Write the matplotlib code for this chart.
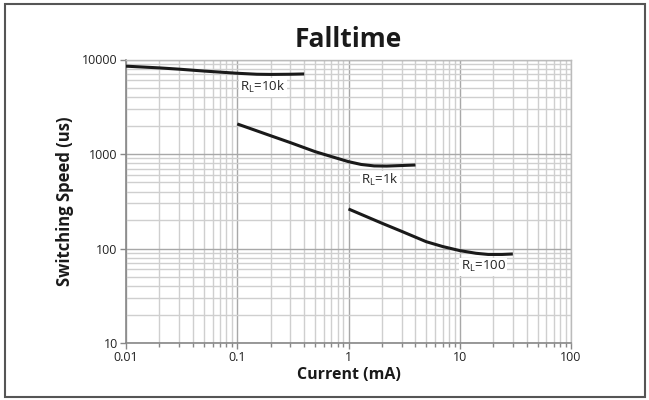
import matplotlib
matplotlib.use("Agg")
import matplotlib.pyplot as plt
from matplotlib.patches import Rectangle
from matplotlib.ticker import LogLocator, FixedLocator, NullFormatter

plt.rcParams['font.family'] = ['Open Sans', 'DejaVu Sans']

# RL = 10k
i_10k = [0.01, 0.02, 0.03, 0.05, 0.1, 0.15, 0.2, 0.3, 0.4]
t_10k = [8500, 8150, 7900, 7550, 7150, 6980, 6950, 6980, 7030]
# RL = 1k
i_1k = [0.1, 0.2, 0.3, 0.5, 0.7, 1.0, 1.3, 1.7, 2.2, 3.0, 4.0]
t_1k = [2080, 1560, 1320, 1060, 940, 830, 775, 748, 745, 755, 765]
# RL = 100
i_100 = [1.0, 2.0, 3.0, 5.0, 7.0, 10.0, 14.0, 18.0, 24.0, 30.0]
t_100 = [262, 185, 152, 118, 105, 95, 89, 86.5, 86.5, 87.5]

labels = ['R$_\\mathregular{L}$=10k', 'R$_\\mathregular{L}$=1k', 'R$_\\mathregular{L}$=100']
label_pos = [(0.17, 5100), (1.92, 530), (16.2, 64)]

fig = plt.figure(figsize=(6.49, 4.0), dpi=100)
ax = fig.add_axes([126 / 649, 1 - 343 / 400, 445 / 649, 283.5 / 400])

ax.set_xscale('log')
ax.set_yscale('log')
ax.set_xlim(0.01, 100)
ax.set_ylim(10, 10000)

ax.xaxis.set_major_locator(FixedLocator([0.01, 0.1, 1, 10, 100]))
ax.yaxis.set_major_locator(FixedLocator([10, 100, 1000, 10000]))
ax.set_xticklabels(['0.01', '0.1', '1', '10', '100'])
ax.set_yticklabels(['10', '100', '1000', '10000'])
ax.xaxis.set_minor_locator(LogLocator(base=10, subs=range(2, 10), numticks=20))
ax.yaxis.set_minor_locator(LogLocator(base=10, subs=range(2, 10), numticks=20))
ax.xaxis.set_minor_formatter(NullFormatter())
ax.yaxis.set_minor_formatter(NullFormatter())

ax.grid(True, which='major', color='#a8a8a8', linewidth=1.0)
ax.grid(True, which='minor', color='#cfcfcf', linewidth=1.0)
ax.set_axisbelow(True)

ax.tick_params(axis='both', which='major', direction='out', length=4, width=1,
               color='#888888', labelsize=9, pad=2, labelcolor='#222222')
ax.tick_params(axis='x', which='minor', direction='out', length=3, width=1, color='#888888')
ax.tick_params(axis='y', which='minor', length=0)

for s in ['left', 'bottom']:
    ax.spines[s].set_color('#888888')
    ax.spines[s].set_linewidth(1.2)
for s in ['top', 'right']:
    ax.spines[s].set_color('#bbbbbb')
    ax.spines[s].set_linewidth(1.0)

for xs, ys in [(i_10k, t_10k), (i_1k, t_1k), (i_100, t_100)]:
    ax.plot(xs, ys, color='#1a1a1a', linewidth=2.2, solid_capstyle='butt',
            solid_joinstyle='round', zorder=3)

for txt, (x, y) in zip(labels, label_pos):
    ax.text(x, y, txt, fontsize=9.5, ha='center', va='center', color='#222222', zorder=4,
            bbox=dict(facecolor='white', edgecolor='none', pad=1.0))

ax.set_title('Falltime', fontsize=19, fontweight='bold', pad=9, color='#1a1a1a')
ax.set_xlabel('Current (mA)', fontsize=11.5, fontweight='bold', labelpad=2, color='#1a1a1a')
ax.set_ylabel('Switching Speed (us)', fontsize=12, fontweight='bold', labelpad=6, color='#1a1a1a')

fig.patches.append(Rectangle((5 / 649, 3 / 400), 640 / 649, 393 / 400, transform=fig.transFigure,
                             fill=False, edgecolor='#555555', linewidth=1.5))

fig.savefig('out.png', dpi=100)
